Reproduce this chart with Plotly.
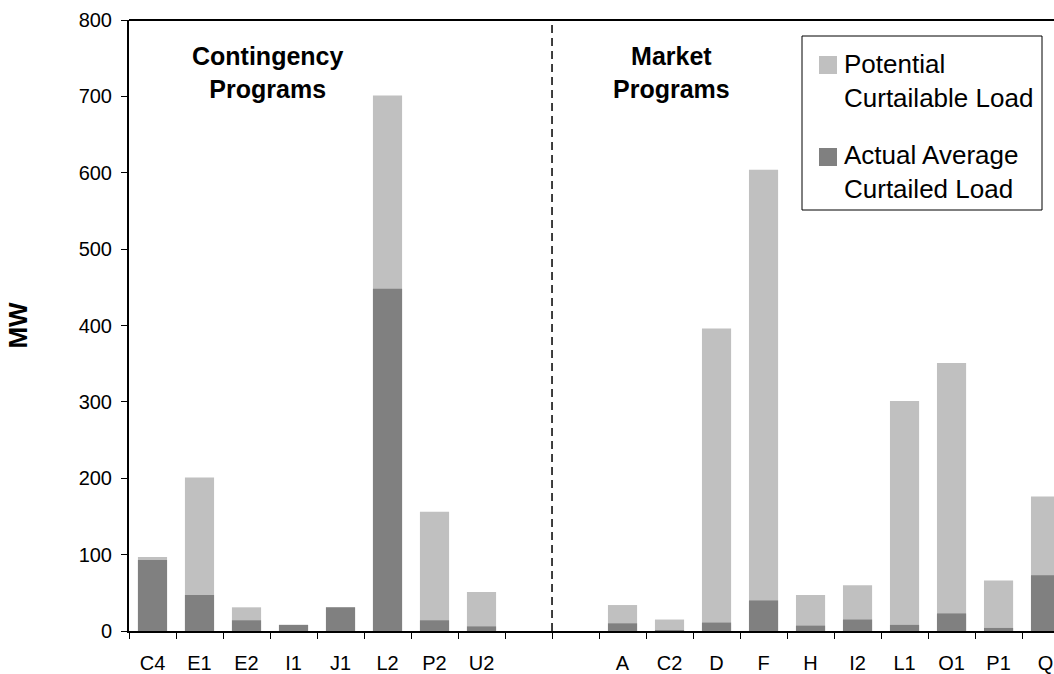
import plotly.graph_objects as go

categories = ["C4", "E1", "E2", "I1", "J1", "L2", "P2", "U2", " ", "  ",
              "A", "C2", "D", "F", "H", "I2", "L1", "O1", "P1", "Q"]
potential = [97, 201, 31, 8, 31, 701, 156, 51, None, None,
             34, 15, 396, 604, 47, 60, 301, 351, 66, 176]
actual = [93, 47, 14, 8, 31, 448, 14, 6, None, None,
          10, 1, 11, 40, 7, 15, 8, 23, 4, 73]
series_names = ["Potential<br>Curtailable Load", "Actual Average<br>Curtailed Load"]
series_colors = ["#C0C0C0", "#808080"]

FONT = "Liberation Sans, Arial, sans-serif"
W, H = 1054, 674
L, R, T, B = 129, 0, 20, 43
PW, PH = W - L - R, H - T - B


def px(x):
    return (x - L) / PW


def py(y):
    return (H - B - y) / PH


fig = go.Figure()
for vals, name, col in zip([potential, actual], series_names, series_colors):
    fig.add_trace(go.Bar(x=categories, y=vals, name=name,
                         marker=dict(color=col, line=dict(width=0)), width=0.62,
                         showlegend=False))

fig.add_shape(type="line", xref="x", yref="y", x0=8.5, x1=8.5, y0=0, y1=800,
              line=dict(color="black", width=1.5, dash="8px,5px"))

for txt, xc in [("<b>Contingency<br>Programs</b>", 267), ("<b>Market<br>Programs</b>", 671)]:
    fig.add_annotation(text=txt, xref="paper", yref="paper",
                       x=px(xc), y=py(73), xanchor="center", yanchor="middle",
                       showarrow=False, align="center",
                       font=dict(family=FONT, size=25, color="black"))

# legend (drawn manually)
fig.add_shape(type="rect", xref="paper", yref="paper", x0=px(802), x1=px(1042),
              y0=py(36), y1=py(210), line=dict(color="black", width=1),
              fillcolor="white", layer="above")
for (ytop, ytext), name, col in zip([(56, 81), (148, 172)], series_names, series_colors):
    fig.add_shape(type="rect", xref="paper", yref="paper", x0=px(819), x1=px(837),
                  y0=py(ytop), y1=py(ytop + 18), line=dict(width=0), fillcolor=col,
                  layer="above")
    fig.add_annotation(text=name, xref="paper", yref="paper", x=px(842), y=py(ytext),
                       xanchor="left", yanchor="middle", align="left", showarrow=False,
                       font=dict(family=FONT, size=26, color="black"))

fig.update_layout(
    width=W, height=H,
    margin=dict(l=L, r=R, t=T, b=B),
    paper_bgcolor="white", plot_bgcolor="white",
    barmode="overlay",
    font=dict(family=FONT, size=20, color="black"),
    showlegend=False,
    xaxis=dict(type="category", categoryorder="array", categoryarray=categories,
               range=[-0.5, 19.18], showline=True, linecolor="black", linewidth=2,
               mirror=False, ticks="outside", ticklen=6, tickcolor="black",
               tickson="boundaries", showgrid=False, ticklabelstandoff=13,
               tickfont=dict(size=20)),
    yaxis=dict(range=[0, 800], dtick=100, showline=True, linecolor="black", linewidth=2,
               ticks="outside", ticklen=6, tickcolor="black", showgrid=False,
               zeroline=False, ticklabelstandoff=5, tickfont=dict(size=20),
               title=dict(text="<b>MW</b>", font=dict(size=26), standoff=44)),
)
fig.add_shape(type="line", xref="paper", yref="paper", x0=0, x1=1, y0=1, y1=1,
              line=dict(color="black", width=2))

fig.write_html("out.html")
